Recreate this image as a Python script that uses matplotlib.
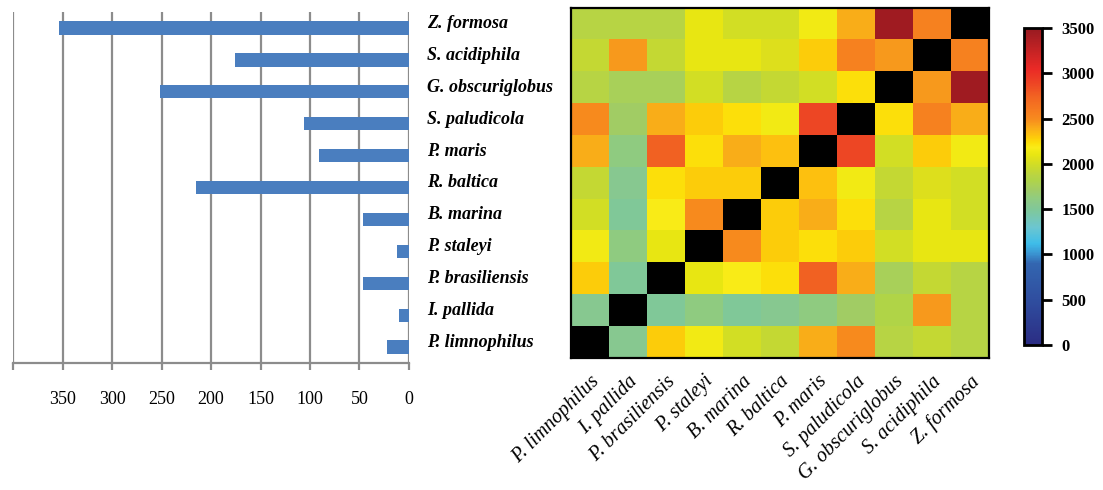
import numpy as np
import matplotlib
matplotlib.use('Agg')
import matplotlib.pyplot as plt
from matplotlib.colors import LinearSegmentedColormap, Normalize
from matplotlib import transforms

# Species, bottom row first
species = ['P. limnophilus', 'I. pallida', 'P. brasiliensis', 'P. staleyi',
           'B. marina', 'R. baltica', 'P. maris', 'S. paludicola',
           'G. obscuriglobus', 'S. acidiphila', 'Z. formosa']

# Bar lengths for each species (same order)
bar_values = [22, 10, 46, 12, 46, 215, 91, 106, 252, 176, 354]

nan = np.nan
# Pairwise matrix, rows in species order (bottom -> top), columns left -> right
pair_values = [
    [nan, 1550, 2290, 2150, 2000, 1930, 2390, 2500, 1870, 1930, 1870],
    [1550, nan, 1500, 1620, 1500, 1550, 1620, 1720, 1820, 2450, 1870],
    [2290, 1500, nan, 2100, 2180, 2230, 2750, 2390, 1760, 1930, 1870],
    [2150, 1620, 2100, nan, 2500, 2290, 2230, 2290, 2000, 2100, 2100],
    [2000, 1500, 2180, 2500, nan, 2290, 2390, 2230, 1870, 2100, 2000],
    [1930, 1550, 2230, 2290, 2290, nan, 2330, 2150, 1930, 2050, 2000],
    [2390, 1620, 2750, 2230, 2390, 2330, nan, 2880, 2000, 2290, 2150],
    [2500, 1720, 2390, 2290, 2230, 2150, 2880, nan, 2230, 2550, 2390],
    [1870, 1760, 1760, 2000, 1870, 1930, 2000, 2230, nan, 2450, 3450],
    [1930, 2450, 1930, 2100, 2100, 2050, 2290, 2550, 2450, nan, 2550],
    [1870, 1870, 1870, 2100, 2000, 2000, 2150, 2390, 3450, 2550, nan],
]

bar_ticks = [0, 50, 100, 150, 200, 250, 300, 350]
cbar_ticks = [0, 500, 1000, 1500, 2000, 2500, 3000, 3500]
vmax = 3500

# colour scale anchors (value, colour)
anchors = [(0, '#2B2C83'), (450, '#2F4B9D'), (900, '#3366B0'), (1000, '#3A92D0'),
           (1120, '#3EBDE9'), (1300, '#6CC6D0'), (1500, '#80C898'), (1550, '#88C890'),
           (1620, '#90CC80'), (1720, '#A2CC64'), (1760, '#A8D05A'), (1820, '#B0D448'),
           (1870, '#B8D444'), (1930, '#C4D834'), (2000, '#D2DE24'), (2050, '#DEE01C'),
           (2100, '#E8E612'), (2150, '#F2EA14'), (2180, '#FAEC18'), (2230, '#FCE00A'),
           (2290, '#FDCC0A'), (2330, '#FDC010'), (2390, '#FAAE18'), (2450, '#F89A1C'),
           (2500, '#F78A1E'), (2550, '#F7821F'), (2750, '#F26222'), (2880, '#EE4724'),
           (3050, '#EA2A26'), (3450, '#A01C22'), (3500, '#9A1A20')]
cmap = LinearSegmentedColormap.from_list('heat', [(v / vmax, c) for v, c in anchors], N=512)
cmap.set_bad('black')

plt.rcParams['font.family'] = 'Liberation Serif'

fig = plt.figure(figsize=(11.03, 4.90), dpi=100)

# ---------------- bar chart ----------------
ax1 = fig.add_axes([0.0118, 0.259, 0.3590, 0.7165])
ypos = np.arange(len(species))
ax1.barh(ypos, bar_values, height=0.42, color='#4A7EBF', zorder=3)
ax1.set_xlim(400, 0)
ax1.set_ylim(-0.5, len(species) - 0.5)
for v in bar_ticks + [400]:
    ax1.axvline(v, color='#8C8C8C', linewidth=1.6, zorder=1)
ax1.set_xticks(bar_ticks + [400])
ax1.set_xticklabels([str(t) for t in bar_ticks] + [''], fontsize=13)
ax1.tick_params(axis='x', direction='out', length=5, width=1.6, color='#8C8C8C', pad=15)
ax1.set_yticks([])
for s in ['top', 'left', 'right']:
    ax1.spines[s].set_visible(False)
ax1.spines['bottom'].set_color('#8C8C8C')
ax1.spines['bottom'].set_linewidth(1.6)

# ---------------- heatmap ----------------
ax2 = fig.add_axes([0.5177, 0.2694, 0.3789, 0.7143])
data = np.ma.masked_invalid(np.array(pair_values))
ax2.imshow(data, cmap=cmap, vmin=0, vmax=vmax, origin='lower', aspect='auto',
           interpolation='nearest')
ax2.set_xticks(ypos)
ax2.set_xticklabels(species, rotation=45, ha='right', rotation_mode='anchor',
                    fontsize=14.5, style='italic')
ax2.tick_params(axis='x', length=0, pad=10)
ax2.set_yticks([])
for s in ax2.spines.values():
    s.set_linewidth(1.6)

# species names between the two panels
trans = transforms.blended_transform_factory(fig.transFigure, ax2.transData)
for i, name in enumerate(species):
    ax2.text(427 / 1103, i, name, transform=trans, ha='left', va='center',
             fontsize=13, fontweight='bold', style='italic')

# ---------------- colour bar ----------------
cax = fig.add_axes([0.9284, 0.2959, 0.0163, 0.6469])
sm = plt.cm.ScalarMappable(norm=Normalize(0, vmax), cmap=cmap)
cb = fig.colorbar(sm, cax=cax, ticks=cbar_ticks)
cb.outline.set_linewidth(2)
cb.ax.tick_params(length=7, width=2, pad=7)
for lbl in cb.ax.get_yticklabels():
    lbl.set_fontweight('bold')
    lbl.set_fontsize(12)

fig.savefig('out.png', dpi=100)
